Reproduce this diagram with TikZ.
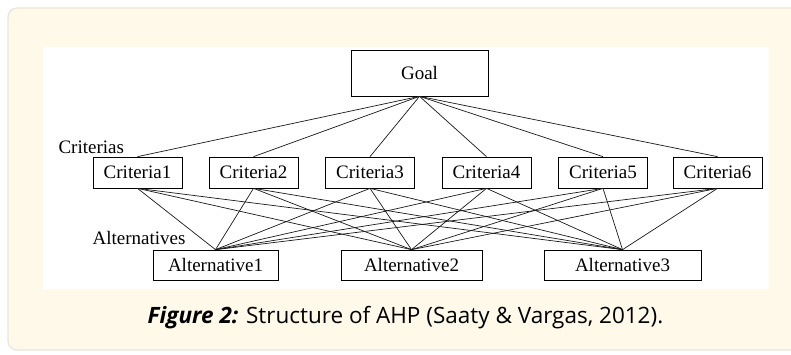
\documentclass[tikz,border=0pt]{standalone}
\usepackage{fontspec}
\setmainfont{Liberation Serif}
\newfontfamily\captionfont{Open Sans}
\usetikzlibrary{positioning}
\definecolor{panelcream}{HTML}{FEF9E9}
\definecolor{panelline}{HTML}{E9E7DC}

\begin{document}
\begin{tikzpicture}[x=1pt, y=-1pt,
    every node/.style={font=\fontsize{19}{21}\selectfont},
    level/.style={draw, line width=0.7pt, inner sep=0pt, minimum height=31pt},
    crit/.style={level, minimum width=89pt},
    link/.style={draw=black!90, line width=0.7pt}]
    \useasboundingbox (0,0) rectangle (791,355);
    \filldraw[fill=panelcream, draw=panelline, line width=1.2pt, rounded corners=9pt]
        (8,8) rectangle (810,350);
    \fill[white] (43,47) rectangle (769,289);

    \node[level, minimum width=137pt, minimum height=46pt] (goal) at (419.5,73) {Goal};

    \node[anchor=west] (lblcrit) at (55,147) {Criterias};
    \node[crit] (c1) at (137.5,172.5) {Criteria1};
    \node[crit] (c2) at (253.5,172.5) {Criteria2};
    \node[crit] (c3) at (370,172.5) {Criteria3};
    \node[crit] (c4) at (486.5,172.5) {Criteria4};
    \node[crit] (c5) at (603,172.5) {Criteria5};
    \node[crit] (c6) at (717.5,172.5) {Criteria6};

    \node[anchor=west] (lblalt) at (89,238) {Alternatives};
    \node[level, minimum width=125pt, minimum height=30pt] (a1) at (215.5,265) {Alternative1};
    \node[level, minimum width=141pt, minimum height=30pt] (a2) at (411.5,265) {Alternative2};
    \node[level, minimum width=157pt, minimum height=30pt] (a3) at (622.5,265) {Alternative3};

    % goal to criteria
    \foreach \c in {c1,c2,c3,c4,c5,c6}
        \path[link] (goal.south) -- (\c.north);

    % criteria to alternatives
    \foreach \c in {c1,c2,c3,c4,c5,c6}
        \foreach \a in {a1,a2,a3}
            \path[link] (\c.south) -- (\a.north);

    \node[font={\captionfont\fontsize{22.5}{25}\selectfont}] (caption) at (405.5,318)
        {\textbf{\textit{Figure 2:}} Structure of AHP (Saaty \& Vargas, 2012).};
\end{tikzpicture}
\end{document}
